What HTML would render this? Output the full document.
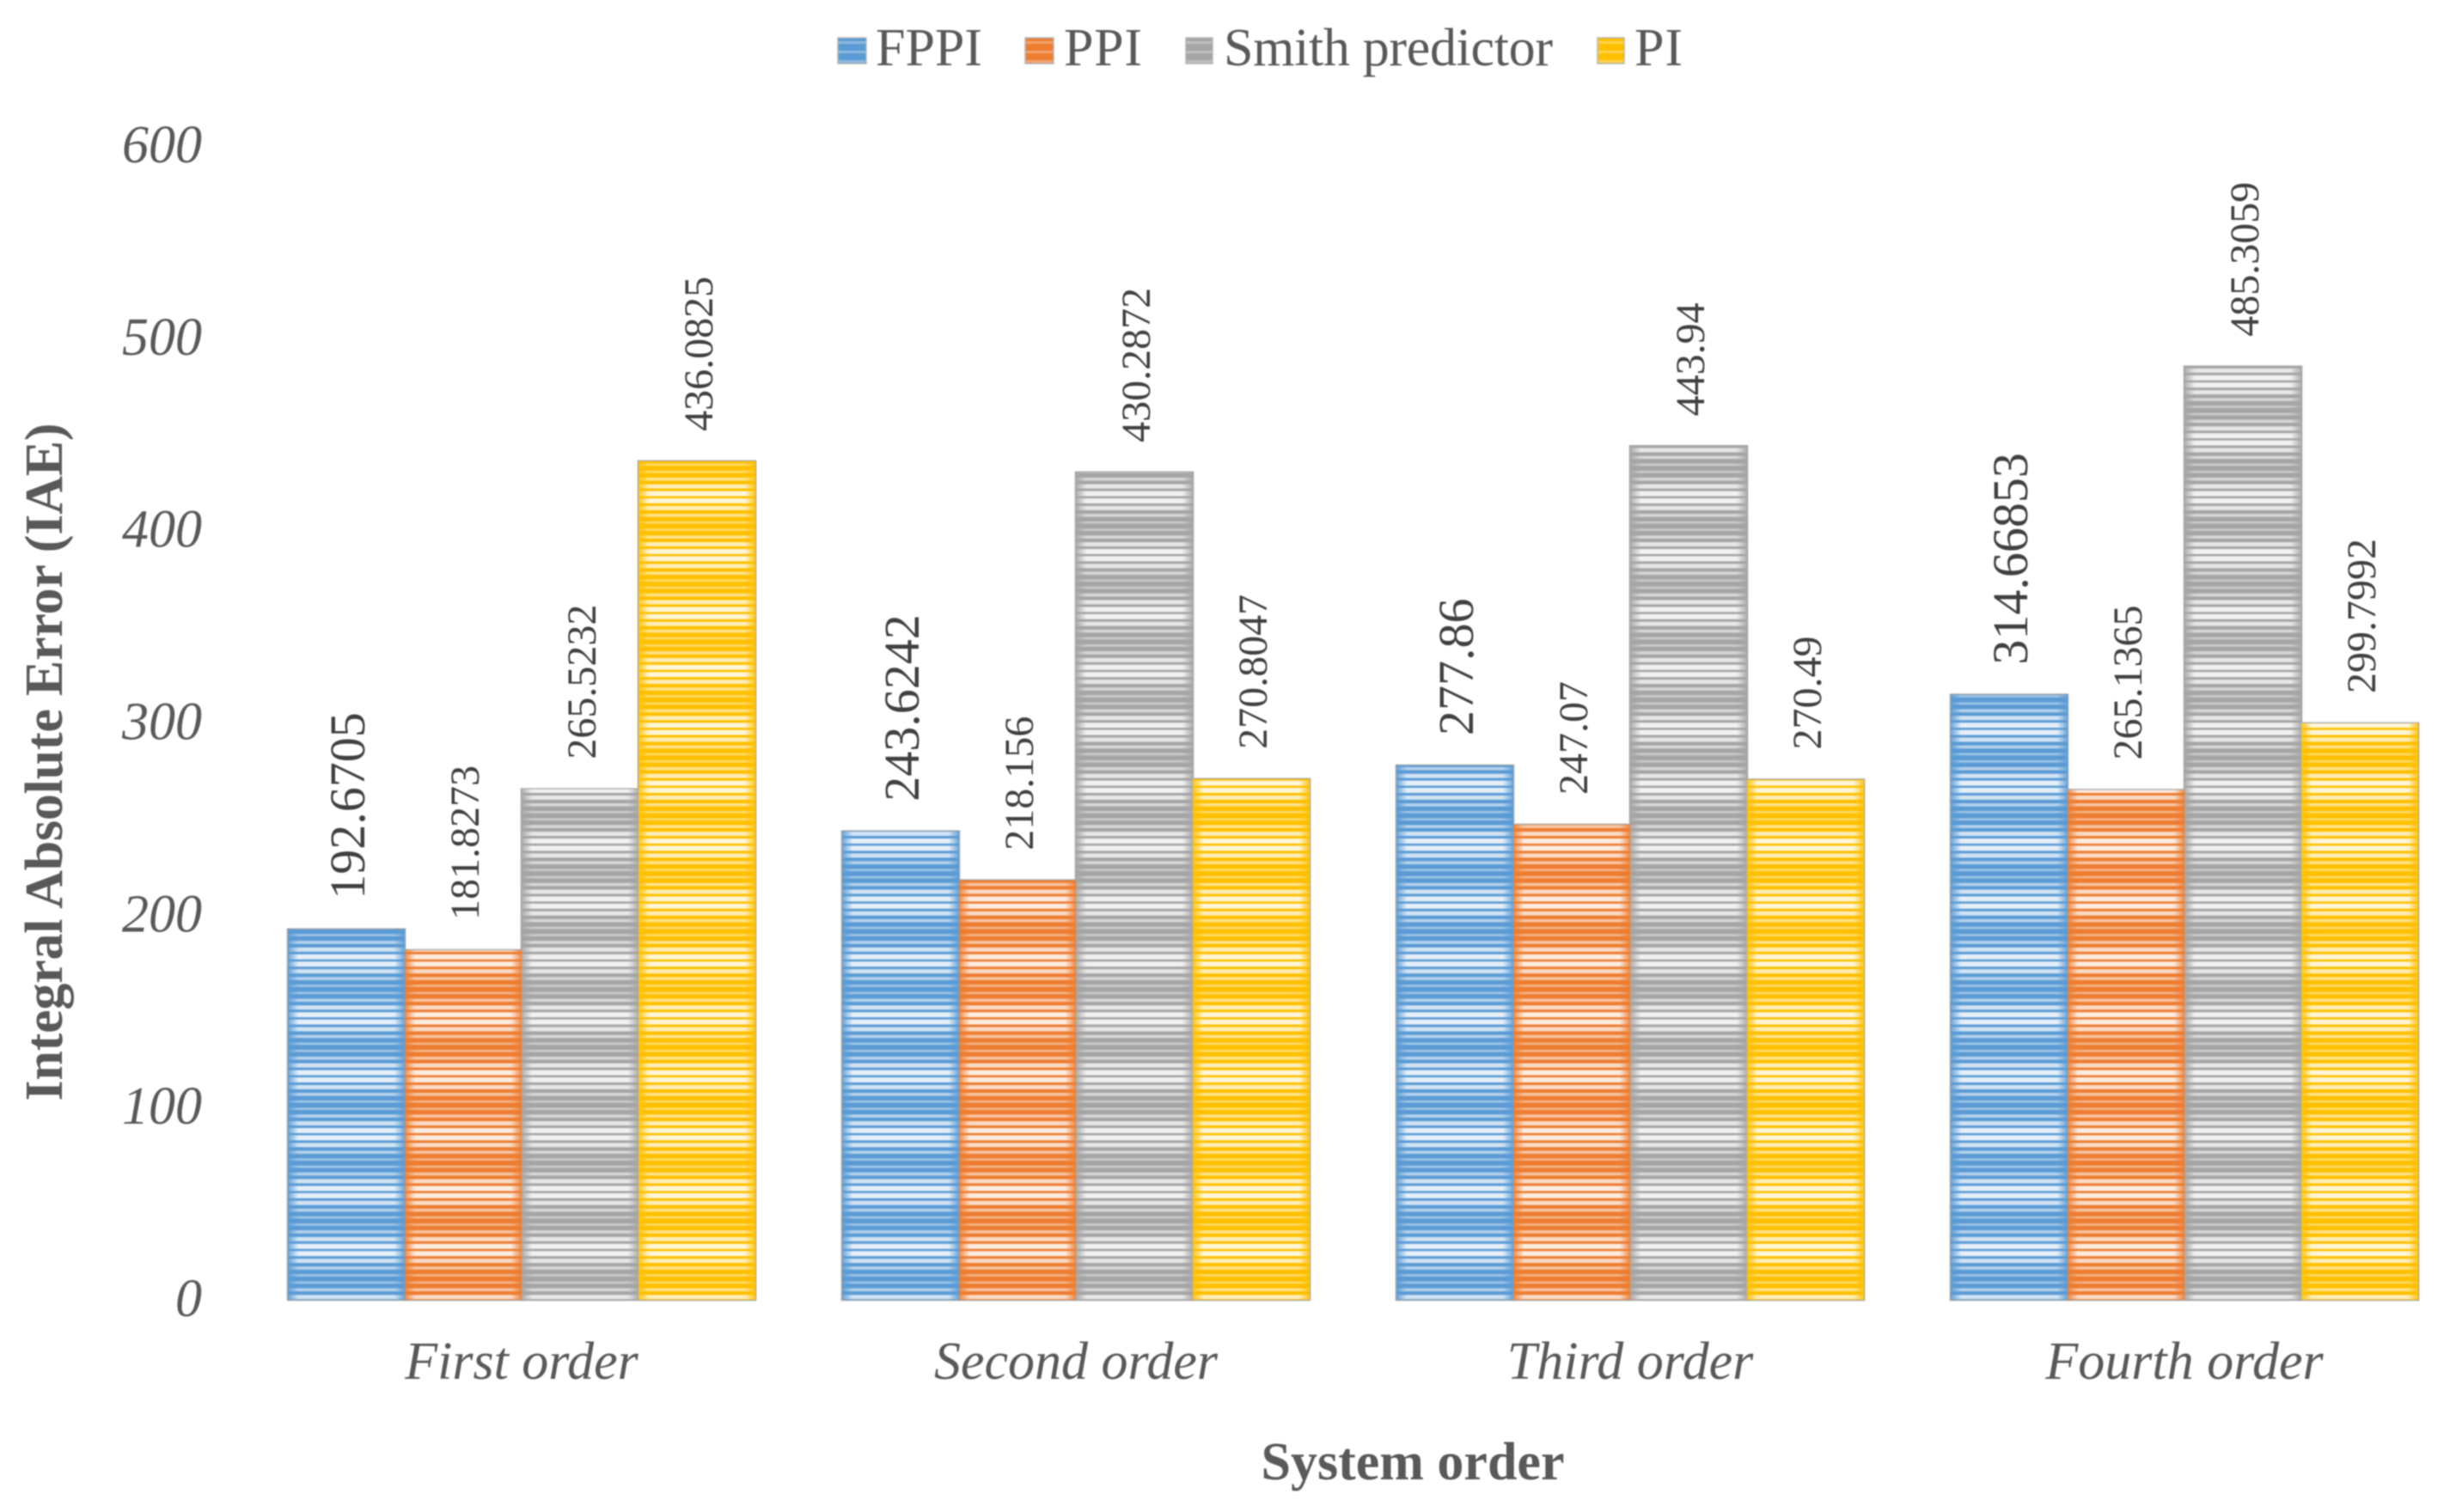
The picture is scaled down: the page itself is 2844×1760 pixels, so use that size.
<!DOCTYPE html>
<html lang="en">
<head>
<meta charset="utf-8">
<title>Integral Absolute Error by System Order</title>
<style>
  html, body { margin: 0; padding: 0; background: #ffffff; }
  #chart { display: block; width: 2844px; height: 1760px; filter: blur(0.8px); }
  text { font-family: "Liberation Serif", "Times New Roman", serif; }
</style>
</head>
<body>
<svg id="chart" xmlns="http://www.w3.org/2000/svg" width="2844" height="1760" viewBox="0 0 2844 1760">
  <defs id="defs"></defs>
  <rect x="0" y="0" width="2844" height="1760" fill="#ffffff"/>
  <g id="legend">
    <g>
      <rect x="975" y="44" width="33" height="30" fill="url(#stripe-legend-0)" stroke="#b5b5b5" stroke-width="1.5"/>
      <text x="1019" y="76" font-size="62" fill="#595959" textLength="124">FPPI</text>
    </g>
    <g>
      <rect x="1193" y="44" width="33" height="30" fill="url(#stripe-legend-1)" stroke="#b5b5b5" stroke-width="1.5"/>
      <text x="1238" y="76" font-size="62" fill="#595959" textLength="91">PPI</text>
    </g>
    <g>
      <rect x="1380" y="44" width="31" height="30" fill="url(#stripe-legend-2)" stroke="#b5b5b5" stroke-width="1.5"/>
      <text x="1424" y="76" font-size="62" fill="#595959" textLength="383">Smith predictor</text>
    </g>
    <g>
      <rect x="1859" y="44" width="31" height="30" fill="url(#stripe-legend-3)" stroke="#b5b5b5" stroke-width="1.5"/>
      <text x="1902" y="76" font-size="62" fill="#595959" textLength="56">PI</text>
    </g>
  </g>
  <g id="y-ticks"></g>
  <g id="outlines"></g>
  <g id="bars"></g>
  <g id="values"></g>
  <g id="x-ticks"></g>
  <text transform="translate(72 887) rotate(-90)" text-anchor="middle" font-size="62" font-weight="bold" fill="#595959" textLength="789">Integral Absolute Error (IAE)</text>
  <text x="1644" y="1722" text-anchor="middle" font-size="62" font-weight="bold" fill="#595959">System order</text>
</svg>
<script>
const categories = ["First order", "Second order", "Third order", "Fourth order"];
const seriesNames = ["FPPI", "PPI", "Smith predictor", "PI"];
const fppiValues = [192.6705, 243.6242, 277.86, 314.66853];
const ppiValues = [181.8273, 218.156, 247.07, 265.1365];
const smithValues = [265.5232, 430.2872, 443.94, 485.3059];
const piValues = [436.0825, 270.8047, 270.49, 299.7992];
const fppiLabels = ["192.6705", "243.6242", "277.86", "314.66853"];
const ppiLabels = ["181.8273", "218.156", "247.07", "265.1365"];
const smithLabels = ["265.5232", "430.2872", "443.94", "485.3059"];
const piLabels = ["436.0825", "270.8047", "270.49", "299.7992"];
const yTickLabels = ["0", "100", "200", "300", "400", "500", "600"];
const seriesColors = ["#5B9BD5", "#ED7D31", "#A5A5A5", "#FFC000"];

const allValues = [fppiValues, ppiValues, smithValues, piValues];
const allLabels = [fppiLabels, ppiLabels, smithLabels, piLabels];

const NS = "http://www.w3.org/2000/svg";
const yMax = 600, baseY = 1513, topY = 170;
const plotLeft = 284.5, categoryWidth = 645, barWidth = 136, gapWidth = 101;

function yScale(v) { return baseY - (v / yMax) * (baseY - topY); }
function xScale(catIndex, seriesIndex) {
  return plotLeft + categoryWidth * catIndex + gapWidth / 2 + barWidth * seriesIndex;
}
function catCenter(catIndex) { return plotLeft + categoryWidth * (catIndex + 0.5); }

/* Striped fills: fine white lines whose strength swells and fades over a long band */
const defs = document.getElementById("defs");
const bandHeight = 67.4, linesPerBand = 8;
seriesColors.forEach(function (color, s) {
  const p = document.createElementNS(NS, "pattern");
  p.setAttribute("id", "stripe-" + s);
  p.setAttribute("patternUnits", "userSpaceOnUse");
  p.setAttribute("width", "40");
  p.setAttribute("height", String(bandHeight));
  p.setAttribute("y", String(1455 - bandHeight * 22 - bandHeight / 2));
  const base = document.createElementNS(NS, "rect");
  base.setAttribute("width", "40");
  base.setAttribute("height", String(bandHeight));
  base.setAttribute("fill", color);
  p.appendChild(base);
  for (let i = 0; i < linesPerBand; i++) {
    const phase = (i + 0.5) / linesPerBand;
    const swell = 0.5 + 0.5 * Math.cos((phase - 0.5) * 2 * Math.PI);
    const line = document.createElementNS(NS, "rect");
    const h = 2.6 + 3.4 * swell;
    line.setAttribute("x", "0");
    line.setAttribute("width", "40");
    line.setAttribute("y", String(phase * bandHeight - h / 2));
    line.setAttribute("height", String(h));
    line.setAttribute("fill", "#ffffff");
    line.setAttribute("fill-opacity", String(0.4 + 0.46 * swell));
    p.appendChild(line);
  }
  defs.appendChild(p);

  const lg = document.createElementNS(NS, "pattern");
  lg.setAttribute("id", "stripe-legend-" + s);
  lg.setAttribute("patternUnits", "userSpaceOnUse");
  lg.setAttribute("width", "10");
  lg.setAttribute("height", "11");
  lg.setAttribute("y", "44");
  const lb = document.createElementNS(NS, "rect");
  lb.setAttribute("width", "10");
  lb.setAttribute("height", "11");
  lb.setAttribute("fill", color);
  lg.appendChild(lb);
  const ll = document.createElementNS(NS, "rect");
  ll.setAttribute("y", "4");
  ll.setAttribute("width", "10");
  ll.setAttribute("height", "3");
  ll.setAttribute("fill", "#ffffff");
  ll.setAttribute("fill-opacity", "0.3");
  lg.appendChild(ll);
  defs.appendChild(lg);

  const edge = document.createElementNS(NS, "linearGradient");
  edge.setAttribute("id", "edge-" + s);
  [[0, 0.9], [0.09, 0], [0.91, 0], [1, 0.9]].forEach(function (st) {
    const stop = document.createElementNS(NS, "stop");
    stop.setAttribute("offset", String(st[0]));
    stop.setAttribute("stop-color", color);
    stop.setAttribute("stop-opacity", String(st[1]));
    edge.appendChild(stop);
  });
  defs.appendChild(edge);
});

/* Y axis tick labels */
const yTicks = document.getElementById("y-ticks");
yTickLabels.forEach(function (label) {
  const t = document.createElementNS(NS, "text");
  
  
  t.setAttribute("x", "235");
  t.setAttribute("y", String(yScale(Number(label)) + 19));
  t.setAttribute("text-anchor", "end");
  t.setAttribute("font-size", "62");
  t.setAttribute("font-style", "italic");
  t.setAttribute("fill", "#595959");
  t.textContent = label;
  yTicks.appendChild(t);
});

/* X axis category labels */
const xTicks = document.getElementById("x-ticks");
categories.forEach(function (label, c) {
  const t = document.createElementNS(NS, "text");
  
  
  t.setAttribute("x", String(catCenter(c)));
  t.setAttribute("y", "1605");
  t.setAttribute("text-anchor", "middle");
  t.setAttribute("font-size", "62");
  t.setAttribute("font-style", "italic");
  t.setAttribute("fill", "#595959");
  t.textContent = label;
  xTicks.appendChild(t);
});

/* Bars and rotated value labels */
const outlinesGroup = document.getElementById("outlines");
const barsGroup = document.getElementById("bars");
const valuesGroup = document.getElementById("values");
allValues.forEach(function (series, s) {
  series.forEach(function (value, c) {
    const x = xScale(c, s);
    const y = yScale(value);
    const h = baseY - y;

    const outline = document.createElementNS(NS, "rect");
    
    
    outline.setAttribute("x", String(x));
    outline.setAttribute("y", String(y));
    outline.setAttribute("width", String(barWidth));
    outline.setAttribute("height", String(h));
    outline.setAttribute("fill", "none");
    outline.setAttribute("stroke", "#a8a8a8");
    outline.setAttribute("stroke-width", "2.6");
    outlinesGroup.appendChild(outline);

    const bar = document.createElementNS(NS, "rect");
    
    
    bar.setAttribute("x", String(x));
    bar.setAttribute("y", String(y));
    bar.setAttribute("width", String(barWidth));
    bar.setAttribute("height", String(h));
    bar.setAttribute("fill", "url(#stripe-" + s + ")");
    barsGroup.appendChild(bar);

    const edge = document.createElementNS(NS, "rect");
    
    
    edge.setAttribute("x", String(x));
    edge.setAttribute("y", String(y));
    edge.setAttribute("width", String(barWidth));
    edge.setAttribute("height", String(h));
    edge.setAttribute("fill", "url(#edge-" + s + ")");
    barsGroup.appendChild(edge);

    const fontSize = s === 0 ? 58 : 48;
    const lx = x + barWidth / 2 + fontSize * 0.33 + 2;
    const ly = y - 35;
    const label = document.createElementNS(NS, "text");
    
    
    label.setAttribute("transform", "translate(" + lx + " " + ly + ") rotate(-90)");
    label.setAttribute("font-size", String(fontSize));
    label.setAttribute("fill", "#404040");
    label.textContent = allLabels[s][c];
    valuesGroup.appendChild(label);
  });
});
</script>
</body>
</html>
